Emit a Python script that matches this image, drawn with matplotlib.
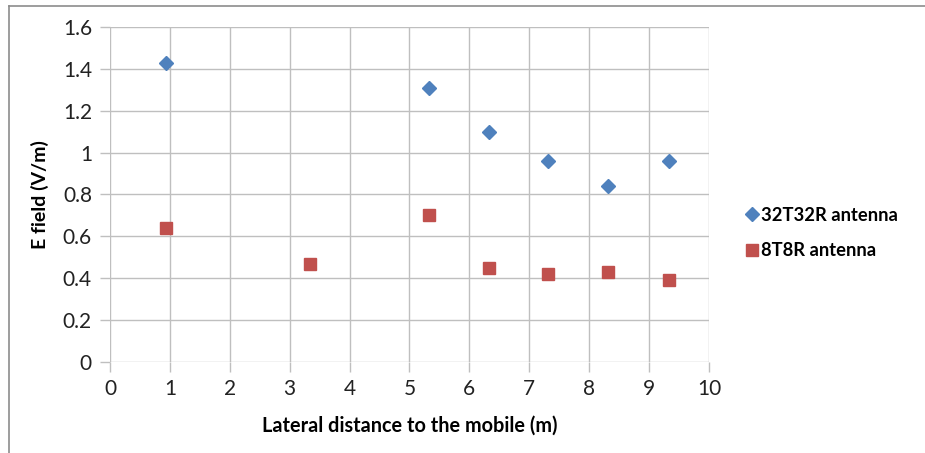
import matplotlib
matplotlib.use("Agg")
import matplotlib.pyplot as plt
from matplotlib.lines import Line2D
from matplotlib.ticker import FuncFormatter

# ── Data ─────────────────────────────────────────────────────────────────────
dist_32t = [0.93, 5.33, 6.33, 7.32, 8.32, 9.33]
efield_32t = [1.43, 1.31, 1.10, 0.96, 0.84, 0.96]

dist_8t = [0.93, 3.34, 5.33, 6.33, 7.32, 8.32, 9.33]
efield_8t = [0.64, 0.47, 0.70, 0.45, 0.42, 0.43, 0.39]

x_ticks = list(range(0, 11))
y_ticks = [0, 0.2, 0.4, 0.6, 0.8, 1.0, 1.2, 1.4, 1.6]

BLUE = "#4F81BD"
RED = "#C0504D"
GRID = "#BFBFBF"

plt.rcParams["font.family"] = ["Lato", "DejaVu Sans"]

# ── Figure ───────────────────────────────────────────────────────────────────
fig = plt.figure(figsize=(9.25, 4.53), dpi=100)
ax = fig.add_axes([0.1189, 0.2009, 0.6476, 0.7395])

ax.plot(dist_32t, efield_32t, linestyle="none", marker="D", markersize=7,
        color=BLUE, label="32T32R antenna")
ax.plot(dist_8t, efield_8t, linestyle="none", marker="s", markersize=8,
        color=RED, label="8T8R antenna")

ax.set_xlim(0, 10)
ax.set_ylim(0, 1.6)
ax.set_xticks(x_ticks)
ax.set_yticks(y_ticks)
ax.yaxis.set_major_formatter(FuncFormatter(lambda v, _: f"{v:g}"))

ax.grid(True, color=GRID, linewidth=1)
ax.set_axisbelow(True)
for side in ["top", "right", "bottom", "left"]:
    ax.spines[side].set_visible(False)
ax.tick_params(axis="both", length=7, width=1, color=GRID,
               labelsize=15, labelcolor="#222222")
ax.tick_params(axis="x", pad=5)
ax.tick_params(axis="y", pad=6)

ax.set_xlabel("Lateral distance to the mobile (m)", fontsize=14.3,
              fontweight="bold", labelpad=12)
ax.set_ylabel("E field (V/m)", fontsize=14, fontweight="bold", labelpad=10)

fig.legend(loc="upper left", bbox_to_anchor=(0.79, 0.58), frameon=False,
           handlelength=0.5, handletextpad=0.25, labelspacing=1.0,
           prop={"weight": "bold", "size": 13.2})

# outer chart frame (top and left edges)
fig.add_artist(Line2D([9 / 925, 9 / 925], [0, 1 - 5.5 / 453],
                      transform=fig.transFigure, color="#8C8C8C", linewidth=1.2))
fig.add_artist(Line2D([9 / 925, 1], [1 - 5.5 / 453, 1 - 5.5 / 453],
                      transform=fig.transFigure, color="#8C8C8C", linewidth=1.2))

fig.savefig("out.png", dpi=100)
